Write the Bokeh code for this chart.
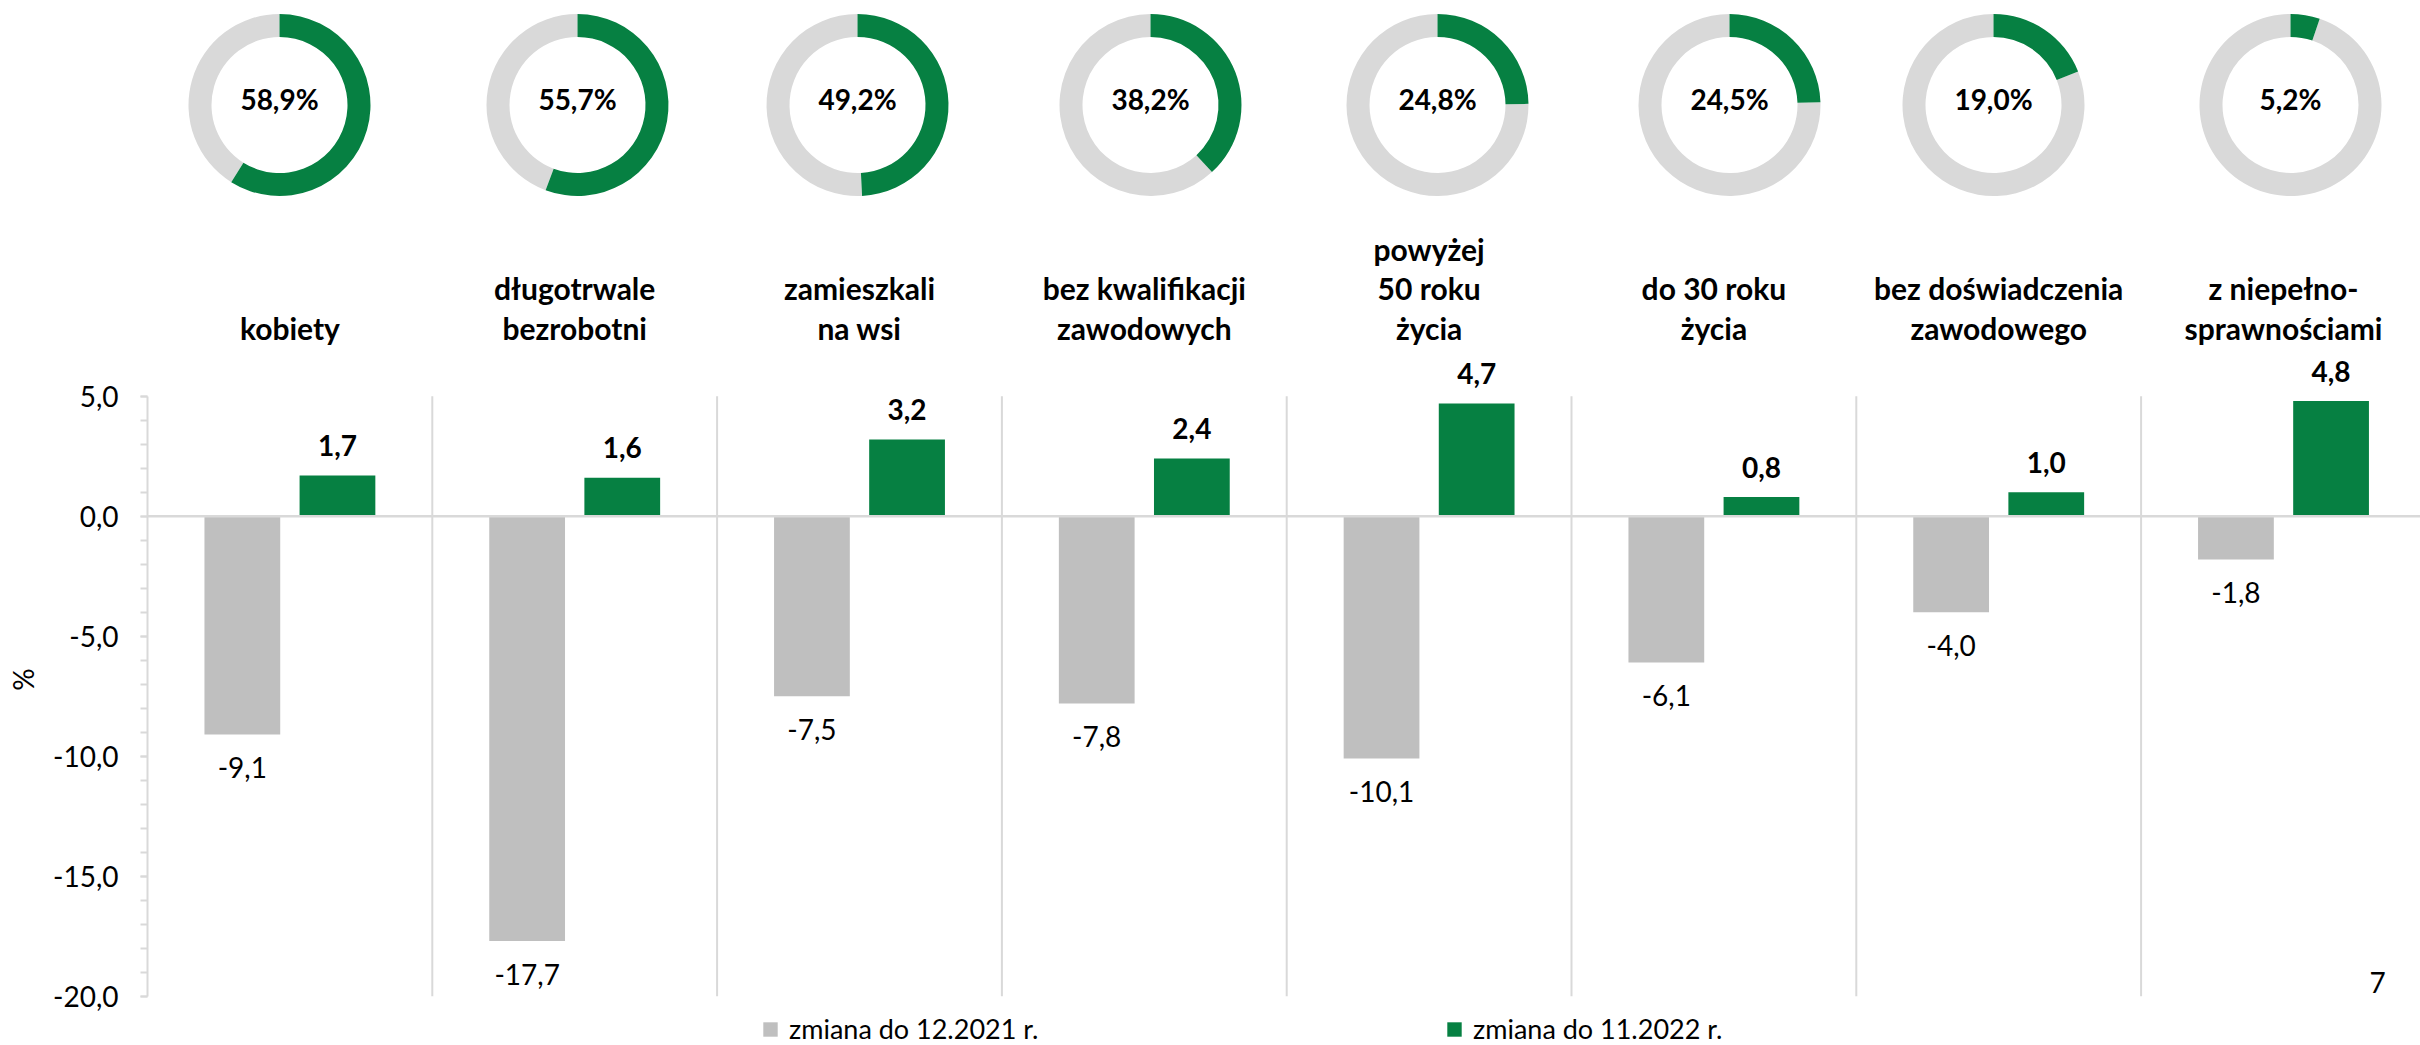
import math
from bokeh.plotting import figure
from bokeh.layouts import row
from bokeh.models import (Range1d, LinearAxis, SingleIntervalTicker, CustomJSTickFormatter,
                          Span, Legend, LegendItem, ColumnDataSource)
from bokeh.core.properties import value
from bokeh.transform import dodge
from bokeh.embed import file_html
from bokeh.resources import INLINE

# ---------------- data ----------------
categories = ["kobiety", "długotrwale\nbezrobotni", "zamieszkali\nna wsi",
              "bez kwalifikacji\nzawodowych", "powyżej\n50 roku\nżycia",
              "do 30 roku\nżycia", "bez doświadczenia\nzawodowego",
              "z niepełno-\nsprawnościami"]
change_2021 = [-9.1, -17.7, -7.5, -7.8, -10.1, -6.1, -4.0, -1.8]
change_2022 = [1.7, 1.6, 3.2, 2.4, 4.7, 0.8, 1.0, 4.8]
share = [58.9, 55.7, 49.2, 38.2, 24.8, 24.5, 19.0, 5.2]
series_names = ["zmiana do 12.2021 r.", "zmiana do 11.2022 r."]
y_min, y_max, y_step = -20, 5, 5
y_axis_title = "%"
page_number = "7"

# ---------------- layout / style ----------------
W, H = 2420, 1045
TITLE_W = 40              # narrow strip holding the rotated axis title
FRAME_LEFT = 147          # page px where the plot frame starts
PX_PER_CAT = 284.8
PX_PER_UNIT = 24.0
ZERO_Y = 515.7            # page px of value 0
GREEN = "#068042"
GREY_BAR = "#bfbfbf"
GREY_RING = "#d9d9d9"
LINE_GREY = "#d9d9d9"
FONT = "Lato"
DONUT_SX = [279, 577, 857, 1150, 1437, 1729, 1993, 2290]
DONUT_SY = 104.5
BAR_W = 0.266
BAR_OFF = 0.167

def fmt(v):
    return f"{v:.1f}".replace(".", ",")

x_end = (W - FRAME_LEFT) / PX_PER_CAT
y_top = ZERO_Y / PX_PER_UNIT
y_bot = -(H - ZERO_Y) / PX_PER_UNIT

def sx_to_x(sx):
    return (sx - FRAME_LEFT) / PX_PER_CAT

def sy_to_y(sy):
    return (ZERO_Y - sy) / PX_PER_UNIT

def hide_grids(fig):
    for r in list(fig.center):
        if r.__class__.__name__ == "Grid":
            r.visible = False

# ---- strip with the y-axis title ----
pt = figure(width=TITLE_W, height=H, x_range=Range1d(0, TITLE_W), y_range=Range1d(H, 0),
            output_backend="svg", toolbar_location=None,
            x_axis_location=None, y_axis_location=None,
            min_border_left=0, min_border_right=0, min_border_top=0, min_border_bottom=0)
pt.outline_line_color = None
hide_grids(pt)
pt.text(x=[22], y=[679], text=[y_axis_title], angle=math.pi / 2, text_align="center",
        text_baseline="middle", text_font=value(FONT), text_font_size="28px", text_color="black")

# ---- main chart ----
p = figure(width=W - TITLE_W, height=H, x_range=Range1d(0, x_end), y_range=Range1d(y_bot, y_top),
           output_backend="svg", toolbar_location=None,
           x_axis_location=None, y_axis_location=None,
           min_border_left=FRAME_LEFT - TITLE_W, min_border_right=0, min_border_top=0,
           min_border_bottom=0)
p.outline_line_color = None
p.background_fill_color = "white"
hide_grids(p)

n = len(categories)
centers = [i + 0.5 for i in range(n)]

# separators between categories
p.segment(x0=list(range(1, n)), x1=list(range(1, n)), y0=[y_min] * (n - 1), y1=[y_max] * (n - 1),
          line_color=LINE_GREY, line_width=2)

# zero line
p.add_layout(Span(location=0, dimension="width", line_color=LINE_GREY, line_width=2.5))

src = ColumnDataSource(dict(
    x=centers, a=change_2021, b=change_2022,
    la=[fmt(v) for v in change_2021], lb=[fmt(v) for v in change_2022]))

r_a = p.vbar(x=dodge("x", -BAR_OFF), width=BAR_W, top="a", bottom=0, source=src,
             fill_color=GREY_BAR, line_color=None)
r_b = p.vbar(x=dodge("x", BAR_OFF), width=BAR_W, top="b", bottom=0, source=src,
             fill_color=GREEN, line_color=None)

p.text(x=dodge("x", -BAR_OFF), y="a", text="la", source=src, y_offset=33,
       text_align="center", text_baseline="alphabetic", text_font=value(FONT),
       text_font_size="28px", text_color="black")
p.text(x=dodge("x", BAR_OFF), y="b", text="lb", source=src, y_offset=-30,
       text_align="center", text_baseline="alphabetic", text_font=value(FONT),
       text_font_size="28px", text_font_style="bold", text_color="black")

# category labels (multi-line, bottom aligned)
lx, ly, lt, lo = [], [], [], []
for i, c in enumerate(categories):
    for k, line in enumerate(reversed(c.split("\n"))):
        lx.append(centers[i]); ly.append(sy_to_y(327)); lt.append(line); lo.append(-39.5 * k)
p.text(x=lx, y=ly, text=lt, y_offset=lo, text_align="center", text_baseline="alphabetic",
       text_font=value(FONT), text_font_size="30px", text_font_style="bold", text_color="black")

# donuts
dx = [sx_to_x(s) for s in DONUT_SX]
dy = [sy_to_y(DONUT_SY)] * n
ends = [math.pi / 2 - 2 * math.pi * s / 100 for s in share]
starts = [math.pi / 2] * n
p.annular_wedge(x=dx, y=dy, inner_radius=68, outer_radius=91,
                inner_radius_units="screen", outer_radius_units="screen",
                start_angle=starts, end_angle=ends, direction="anticlock",
                fill_color=GREY_RING, line_color=None)
p.annular_wedge(x=dx, y=dy, inner_radius=68, outer_radius=91,
                inner_radius_units="screen", outer_radius_units="screen",
                start_angle=starts, end_angle=ends, direction="clock",
                fill_color=GREEN, line_color=None)
p.text(x=dx, y=dy, text=[fmt(s) + "%" for s in share], y_offset=-6, text_align="center",
       text_baseline="middle", text_font=value(FONT), text_font_size="28px",
       text_font_style="bold", text_color="black")

# page number
p.text(x=[sx_to_x(2377)], y=[sy_to_y(982)], text=[page_number], text_align="center",
       text_baseline="alphabetic", text_font=value(FONT), text_font_size="28px", text_color="black")

# y axis
yaxis = LinearAxis(bounds=(y_min, y_max),
                   ticker=SingleIntervalTicker(interval=y_step, num_minor_ticks=5),
                   formatter=CustomJSTickFormatter(code="return tick.toFixed(1).replace('.', ',')"))
yaxis.axis_line_color = LINE_GREY
yaxis.axis_line_width = 2
yaxis.major_tick_line_color = LINE_GREY
yaxis.minor_tick_line_color = LINE_GREY
yaxis.major_tick_line_width = 2
yaxis.minor_tick_line_width = 2
yaxis.major_tick_in = 0
yaxis.minor_tick_in = 0
yaxis.major_tick_out = 7
yaxis.minor_tick_out = 7
yaxis.major_label_standoff = 22
yaxis.major_label_text_font = FONT
yaxis.major_label_text_font_size = "28px"
yaxis.major_label_text_color = "black"
p.add_layout(yaxis, "left")

legend = Legend(items=[LegendItem(label=series_names[0], renderers=[r_a]),
                       LegendItem(label=series_names[1], renderers=[r_b])],
                orientation="horizontal", location=(614, 0),
                glyph_width=18, glyph_height=18, label_standoff=10, label_width=300,
                spacing=356, padding=0, margin=0, border_line_color=None,
                background_fill_alpha=0, label_text_font=FONT, label_text_font_size="27px",
                label_text_color="black")
p.add_layout(legend)

layout = row(pt, p, spacing=0)
open("out.html", "w").write(file_html(layout, INLINE))
